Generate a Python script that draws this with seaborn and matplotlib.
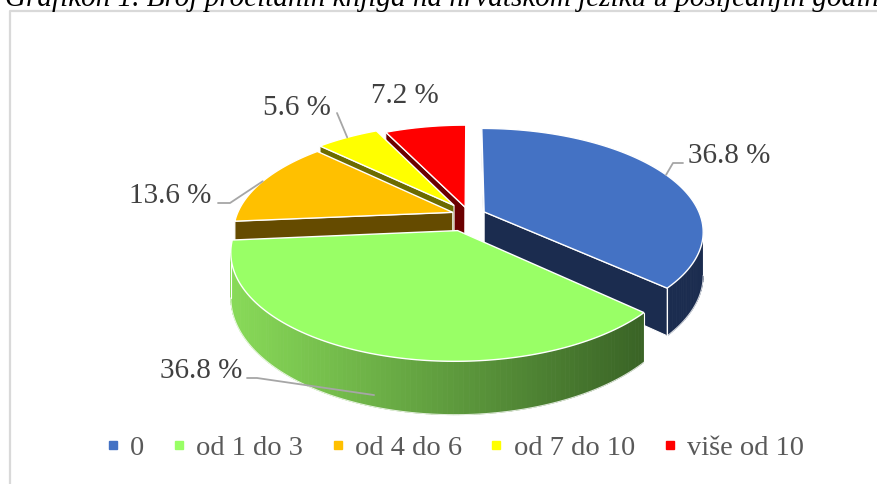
# %%
import numpy as np
import matplotlib
matplotlib.use("Agg")
import matplotlib.pyplot as plt
from matplotlib.patches import Polygon
from matplotlib.lines import Line2D
from matplotlib.colors import to_rgb
import seaborn as sns

# %%
# podaci (udio ispitanika, %)
categories = ["0", "od 1 do 3", "od 4 do 6", "od 7 do 10", "više od 10"]
shares = [36.8, 36.8, 13.6, 5.6, 7.2]
top_colors = ["#4472C4", "#99FF66", "#FFC000", "#FFFF00", "#FF0000"]
side_colors = ["#1B2C4F", "#5A9A3A", "#654B00", "#6B6B00", "#6B0000"]
explode = [0.077, 0.16, 0.08, 0.12, 0.08]

title = "Grafikon 1. Broj pročitanih knjiga na hrvatskom jeziku u posljednjih godinu dana"

# %%
sns.set_theme(style="white")
plt.rcParams["font.family"] = ["Liberation Serif", "DejaVu Serif"]

fig = plt.figure(figsize=(8.78, 4.84), dpi=100)
ax = fig.add_axes([0, 0, 1, 1])
ax.set_xlim(0, 878)
ax.set_ylim(484, 0)
ax.axis("off")

# "3D" projekcija kolača (perspektiva kao u Excelu)
CX, CY, RX, RY, K, DEPTH = 469, 215, 216, 100, 0.185, 42


def proj(u, v, z=0.0):
    u = np.asarray(u, dtype=float)
    v = np.asarray(v, dtype=float)
    s = 1.0 / (1.0 + K * v)
    return CX + RX * u * s, CY - RY * v * s + DEPTH * z * s


def area(pts):
    x, y = pts[:, 0], pts[:, 1]
    return np.sum(x * np.roll(y, -1) - np.roll(x, -1) * y)


def quad(p_top, q_top, q_bot, p_bot):
    return np.array([p_top, q_top, q_bot, p_bot])


# okvir grafikona
ax.plot([10, 10, 900], [500, 11, 11], color="#D9D9D9", lw=1.6, solid_capstyle="butt")
ax.text(5, 6, title, fontsize=21, style="italic", color="black", va="baseline", ha="left")

# %%
cum = np.concatenate([[0], np.cumsum(shares)])
slices = []
for i, val in enumerate(shares):
    a_hi = np.deg2rad(90 - cum[i] * 3.6)
    a_lo = np.deg2rad(90 - cum[i + 1] * 3.6)
    mid = (a_hi + a_lo) / 2
    ou, ov = explode[i] * np.cos(mid), explode[i] * np.sin(mid)
    slices.append((i, a_hi, a_lo, mid, ou, ov))

# crtanje od straga prema naprijed
order = sorted(slices, key=lambda s: -np.sin(s[3]))
green_light, green_dark = np.array(to_rgb("#88DA58")), np.array(to_rgb("#3A6426"))

for i, a_hi, a_lo, mid, ou, ov in order:
    t = np.linspace(a_hi, a_lo, 120)
    au, av = ou + np.cos(t), ov + np.sin(t)
    top = np.column_stack(proj(au, av, 0))
    bot = np.column_stack(proj(au, av, 1))
    vt = np.array(proj(ou, ov, 0))
    vb = np.array(proj(ou, ov, 1))

    # rezne stranice
    for face in (quad(vt, top[0], bot[0], vb), quad(top[-1], vt, vb, bot[-1])):
        if area(face) < 0:
            ax.add_patch(Polygon(face, closed=True, fc=side_colors[i], ec="white", lw=0.8, zorder=2))

    # vanjski plašt
    vis = []
    xmin, xmax = 232, 640
    for j in range(len(t) - 1):
        q = quad(top[j], top[j + 1], bot[j + 1], bot[j])
        if area(q) < 0:
            vis.append(j)
            if i == 1:
                f = np.clip((q[:, 0].mean() - xmin) / (xmax - xmin), 0, 1)
                col = green_light * (1 - f) + green_dark * f
            else:
                col = side_colors[i]
            ax.add_patch(Polygon(q, closed=True, fc=col, ec=col, lw=0.6, zorder=2))
    if vis:
        j0, j1 = vis[0], vis[-1] + 1
        ax.plot(bot[j0:j1 + 1, 0], bot[j0:j1 + 1, 1], color="white", lw=0.8, alpha=0.8, zorder=2)
        for j in (j0, j1):
            ax.plot([top[j, 0], bot[j, 0]], [top[j, 1], bot[j, 1]], color="white", lw=0.8, zorder=2)

    # gornja ploha
    face = np.vstack([vt, top])
    ax.add_patch(Polygon(face, closed=True, fc=top_colors[i], ec="white", lw=1.0, zorder=3))

# %%
# oznake s vodilicama
label_text = [f"{v:.1f} %" for v in shares]
label_pos = [(688, 163, "left"), (242, 378, "right"), (211, 203, "right"),
             (331, 115, "right"), (405, 103, "center")]
leader_start = [[(683, 163), (673, 163)], [(247, 378), (257, 378)],
                [(218, 203), (230, 203)], [(337, 113)], None]
leader_z = [0, 0.8, 0, 0, 0]

for i, a_hi, a_lo, mid, ou, ov in slices:
    x, y, ha = label_pos[i]
    ax.text(x, y, label_text[i], fontsize=21, color="#404040", ha=ha, va="baseline", zorder=5)
    if leader_start[i] is not None:
        ex, ey = proj(ou + np.cos(mid), ov + np.sin(mid), leader_z[i])
        pts = leader_start[i] + [(float(ex) + (6 if i == 1 else 0), float(ey))]
        ax.plot([p[0] for p in pts], [p[1] for p in pts], color="#A6A6A6", lw=1.3, zorder=4)

# legenda
handles = [Line2D([], [], marker="s", ls="", markersize=5.5, markerfacecolor=c, markeredgecolor=c)
           for c in top_colors]
leg = fig.legend(handles, categories, loc="center", bbox_to_anchor=(0.517, 0.074), ncol=5,
                 frameon=False, fontsize=20.5, handlelength=0.6, handletextpad=0.3,
                 columnspacing=0.92, borderaxespad=0)
for txt in leg.get_texts():
    txt.set_color("#595959")

fig.savefig("out.png", dpi=100)
